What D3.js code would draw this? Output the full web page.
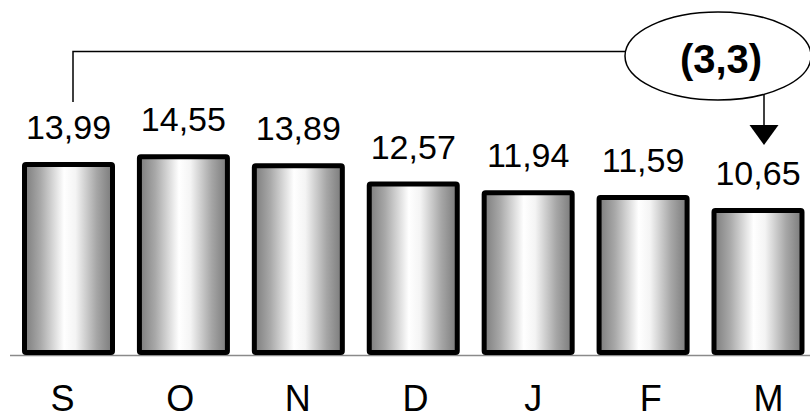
<!DOCTYPE html>
<html>
<head>
<meta charset="utf-8">
<script src="https://cdn.jsdelivr.net/npm/d3@7"></script>
<style>
  html, body { margin: 0; padding: 0; background: #fff; }
  svg { display: block; }
  text { font-family: "Liberation Sans", Arial, Helvetica, sans-serif; }
</style>
</head>
<body>
<svg id="chart" width="810" height="419"></svg>
<script>
// Monthly values, September to March
const months = ["S", "O", "N", "D", "J", "F", "M"];
const values = [13.99, 14.55, 13.89, 12.57, 11.94, 11.59, 10.65];
const valueLabels = ["13,99", "14,55", "13,89", "12,57", "11,94", "11,59", "10,65"];
const noteText = "(3,3)";

const svg = d3.select("#chart");
const W = 810, H = 419;

// Bar positions and the slightly wider-spread month labels underneath
const x = d3.scalePoint().domain(months).range([68.5, 758]);
const xLabel = d3.scalePoint().domain(months).range([62, 768]);
const y = d3.scaleLinear().domain([0, 15]).range([355, 355 - 15 * 13.8]);
const barW = 93, sw = 5;

// Cylinder-like horizontal shading
const grad = svg.append("defs").append("linearGradient")
  .attr("id", "barShade").attr("x1", "0").attr("x2", "1").attr("y1", "0").attr("y2", "0");
[[0, "#7c7c7c"], [0.18, "#a8a8a8"], [0.45, "#ffffff"], [0.58, "#f4f4f4"], [0.82, "#a6a6a6"], [1, "#7a7a7a"]]
  .forEach(([o, c]) => grad.append("stop").attr("offset", o).attr("stop-color", c));

// Baseline
svg.append("line")
  .attr("x1", 10).attr("x2", W).attr("y1", 355.5).attr("y2", 355.5)
  .attr("stroke", "#8a8a8a").attr("stroke-width", 1.5);

// Bars
svg.selectAll("rect.bar").data(values).enter().append("rect")
  .attr("class", "bar")
  .attr("x", (d, i) => x(months[i]) - barW / 2 + sw / 2)
  .attr("y", d => y(d) + sw / 2)
  .attr("width", barW - sw)
  .attr("height", d => y(0) - y(d) - sw)
  .attr("fill", "url(#barShade)")
  .attr("stroke", "#000").attr("stroke-width", sw)
  .attr("rx", 1.5);

// Value labels
svg.selectAll("text.val").data(values).enter().append("text")
  .attr("class", "val")
  .attr("x", (d, i) => x(months[i]))
  .attr("y", d => y(d) - 23)
  .attr("text-anchor", "middle")
  .attr("font-size", 34)
  .attr("fill", "#000")
  .text((d, i) => valueLabels[i]);

// Month labels
const xAxis = d3.axisBottom(xLabel).tickSize(0).tickPadding(0);
const gx = svg.append("g").attr("transform", "translate(0,411)").call(xAxis);
gx.select(".domain").remove();
gx.selectAll("text")
  .attr("font-size", 36).attr("fill", "#000")
  .attr("font-family", "'Liberation Sans', Arial, sans-serif")
  .attr("y", 0)
  .attr("dy", 0);

// Annotation: bracket from first month to the callout, arrow to last month
const cx = 718, cy = 56, rx = 93, ry = 44;
const xFirst = x(months[0]) + 4.5;
const xLast = x(months[months.length - 1]) + 6;
const yBracket = 51.5;

svg.append("path")
  .attr("d", `M${xFirst},${y(values[0]) - 60} V${yBracket} H${cx - rx * Math.sqrt(1 - Math.pow((yBracket - cy) / ry, 2))}`)
  .attr("fill", "none").attr("stroke", "#000").attr("stroke-width", 1.5);

svg.append("ellipse")
  .attr("cx", cx).attr("cy", cy).attr("rx", rx).attr("ry", ry)
  .attr("fill", "#fff").attr("stroke", "#000").attr("stroke-width", 1.5);

svg.append("text")
  .attr("x", cx + 3).attr("y", 73)
  .attr("text-anchor", "middle")
  .attr("font-size", 40).attr("font-weight", "bold")
  .attr("fill", "#000")
  .text(noteText);

const yEll = cy + ry * Math.sqrt(1 - Math.pow((xLast - cx) / rx, 2));
const tipY = 145;
svg.append("line")
  .attr("x1", xLast).attr("x2", xLast).attr("y1", yEll).attr("y2", tipY - 18)
  .attr("stroke", "#000").attr("stroke-width", 1.5);
svg.append("path")
  .attr("d", `M${xLast - 14.5},${tipY - 20} L${xLast + 14.5},${tipY - 20} L${xLast},${tipY} Z`)
  .attr("fill", "#000");
</script>
</body>
</html>
